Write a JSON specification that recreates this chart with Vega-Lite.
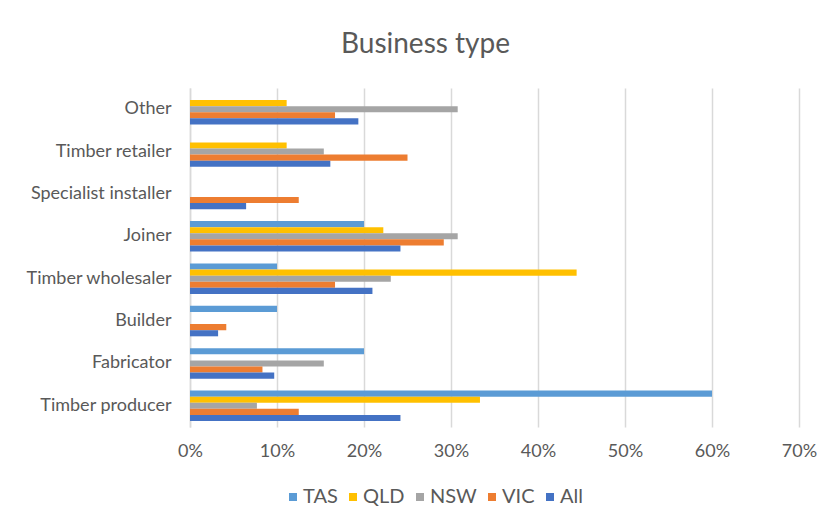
{
  "$schema": "https://vega.github.io/schema/vega-lite/v6.json",
  "width": 609,
  "height": 339,
  "autosize": {"type": "none"},
  "padding": {"left": 190, "top": 88, "right": 29, "bottom": 94},
  "background": "white",
  "title": {
    "text": "Business type",
    "font": "Lato",
    "fontSize": 28,
    "fontWeight": "normal",
    "color": "#595959",
    "anchor": "middle",
    "dx": -69,
    "offset": 29
  },
  "config": {
    "view": {"stroke": null},
    "font": "Lato"
  },
  "data": {
    "values": [
      {"type": "Other", "group": "QLD", "share": 0.1111},
      {"type": "Other", "group": "NSW", "share": 0.3077},
      {"type": "Other", "group": "VIC", "share": 0.1667},
      {"type": "Other", "group": "All", "share": 0.1935},
      {"type": "Timber retailer", "group": "QLD", "share": 0.1111},
      {"type": "Timber retailer", "group": "NSW", "share": 0.1538},
      {"type": "Timber retailer", "group": "VIC", "share": 0.25},
      {"type": "Timber retailer", "group": "All", "share": 0.1613},
      {"type": "Specialist installer", "group": "VIC", "share": 0.125},
      {"type": "Specialist installer", "group": "All", "share": 0.0645},
      {"type": "Joiner", "group": "TAS", "share": 0.2},
      {"type": "Joiner", "group": "QLD", "share": 0.2222},
      {"type": "Joiner", "group": "NSW", "share": 0.3077},
      {"type": "Joiner", "group": "VIC", "share": 0.2917},
      {"type": "Joiner", "group": "All", "share": 0.2419},
      {"type": "Timber wholesaler", "group": "TAS", "share": 0.1},
      {"type": "Timber wholesaler", "group": "QLD", "share": 0.4444},
      {"type": "Timber wholesaler", "group": "NSW", "share": 0.2308},
      {"type": "Timber wholesaler", "group": "VIC", "share": 0.1667},
      {"type": "Timber wholesaler", "group": "All", "share": 0.2097},
      {"type": "Builder", "group": "TAS", "share": 0.1},
      {"type": "Builder", "group": "VIC", "share": 0.0417},
      {"type": "Builder", "group": "All", "share": 0.0323},
      {"type": "Fabricator", "group": "TAS", "share": 0.2},
      {"type": "Fabricator", "group": "NSW", "share": 0.1538},
      {"type": "Fabricator", "group": "VIC", "share": 0.0833},
      {"type": "Fabricator", "group": "All", "share": 0.0968},
      {"type": "Timber producer", "group": "TAS", "share": 0.6},
      {"type": "Timber producer", "group": "QLD", "share": 0.3333},
      {"type": "Timber producer", "group": "NSW", "share": 0.0769},
      {"type": "Timber producer", "group": "VIC", "share": 0.125},
      {"type": "Timber producer", "group": "All", "share": 0.2419}
    ]
  },
  "mark": {"type": "bar"},
  "encoding": {
    "y": {
      "field": "type",
      "type": "nominal",
      "title": null,
      "scale": {
        "domain": ["Other", "Timber retailer", "Specialist installer", "Joiner", "Timber wholesaler", "Builder", "Fabricator", "Timber producer"],
        "paddingInner": 0.28,
        "paddingOuter": 0.14
      },
      "axis": {
        "ticks": false,
        "domain": true,
        "domainColor": "#D9D9D9",
        "domainWidth": 1.5,
        "labelFont": "Lato",
        "labelFontSize": 18,
        "labelColor": "#595959",
        "labelPadding": 19
      }
    },
    "yOffset": {
      "field": "group",
      "type": "nominal",
      "scale": {"domain": ["TAS", "QLD", "NSW", "VIC", "All"], "paddingInner": 0, "paddingOuter": 0}
    },
    "x": {
      "field": "share",
      "type": "quantitative",
      "title": null,
      "scale": {"domain": [0, 0.7], "nice": false},
      "axis": {
        "values": [0, 0.1, 0.2, 0.3, 0.4, 0.5, 0.6, 0.7],
        "format": ".0%",
        "grid": true,
        "gridColor": "#D9D9D9",
        "gridWidth": 1.5,
        "domain": false,
        "ticks": false,
        "labelFlush": false,
        "labelFont": "Lato",
        "labelFontSize": 18,
        "labelColor": "#595959",
        "labelPadding": 15
      }
    },
    "color": {
      "field": "group",
      "type": "nominal",
      "title": null,
      "scale": {
        "domain": ["TAS", "QLD", "NSW", "VIC", "All"],
        "range": ["#5B9BD5", "#FFC000", "#A5A5A5", "#ED7D31", "#4472C4"]
      },
      "legend": {
        "orient": "none",
        "direction": "horizontal",
        "legendX": 93,
        "legendY": 399,
        "symbolType": "square",
        "symbolSize": 64,
        "symbolStrokeWidth": 0,
        "labelFont": "Lato",
        "labelFontSize": 20,
        "labelColor": "#595959",
        "labelOffset": 0,
        "columnPadding": 5
      }
    }
  }
}
